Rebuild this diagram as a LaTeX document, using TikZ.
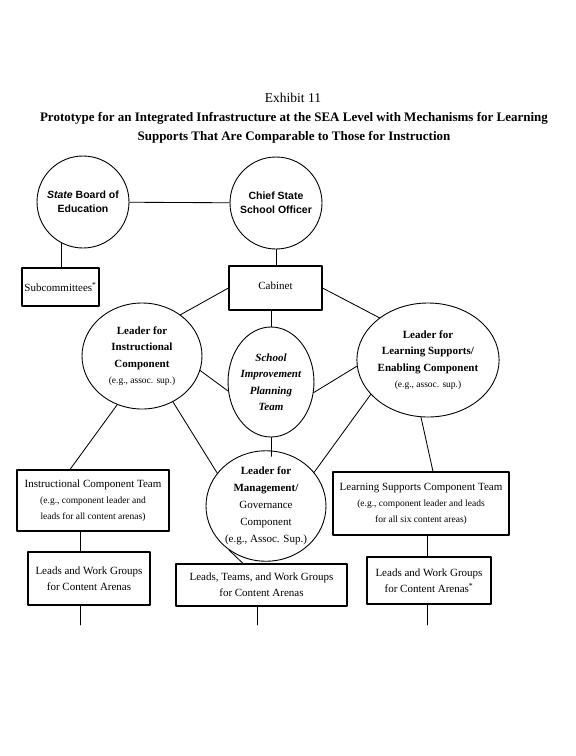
\documentclass[tikz,border=0pt]{standalone}
\usepackage{fontspec}
\setmainfont{Liberation Serif}
\newfontfamily\arialfont{Liberation Sans}
\usetikzlibrary{shapes.geometric}
\newcommand{\egtext}{\fontsize{9.5}{15}\selectfont}
\begin{document}
\begin{tikzpicture}[x=1pt, y=-1pt, line cap=round, line join=round,
    box/.style={draw, line width=1.1pt, align=center, inner sep=0pt, font=\fontsize{11}{16}\selectfont},
    bubble/.style={draw, ellipse, line width=0.9pt, align=center, inner sep=0pt, font=\fontsize{11}{16.5}\selectfont},
    link/.style={line width=0.85pt}]
    \useasboundingbox (0,0) rectangle (576,756);

    % Title
    \node (exh) at (293,98) {\fontsize{13.5}{15}\selectfont Exhibit 11};
    \node[align=center, font=\fontsize{13}{19.5}\selectfont\bfseries] (ttl) at (294,128)
        {Prototype for an Integrated Infrastructure at the SEA Level with Mechanisms for Learning\\
         Supports That Are Comparable to Those for Instruction};

    % Top level
    \node[bubble, circle, minimum size=92pt, font=\arialfont\bfseries\fontsize{10.5}{14}\selectfont] (sbe) at (83,202)
        {\textit{State} Board of\\Education};
    \node[bubble, circle, minimum size=92pt, font=\arialfont\bfseries\fontsize{10.5}{14}\selectfont] (csso) at (276,203)
        {Chief State\\School Officer};
    \node[box, minimum width=77pt, minimum height=38pt] (sub) at (60.5,287) {Subcommittees\textsuperscript{*}};
    \node[box, minimum width=93pt, minimum height=44pt] (cab) at (275.5,288) {\raisebox{4pt}{Cabinet}};

    % Component leaders
    \node[bubble, minimum width=120pt, minimum height=106pt] (lic) at (142,356)
        {\textbf{Leader for}\\\textbf{Instructional}\\\textbf{Component}\\\egtext (e.g., assoc. sup.)};
    \node[bubble, minimum width=74pt, minimum height=110pt] (sipt) at (271,382)
        {\textbf{\textit{School}}\\\textbf{\textit{Improvement}}\\\textbf{\textit{Planning}}\\\textbf{\textit{Team}}};
    \node[bubble, minimum width=120pt, minimum height=114pt] (lls) at (428,360)
        {\textbf{Leader for}\\\textbf{Learning Supports/}\\\textbf{Enabling Component}\\\egtext (e.g., assoc. sup.)};
    \node[bubble, minimum width=120pt, minimum height=108pt, font=\fontsize{11}{17}\selectfont] (lmg) at (266,506)
        {\textbf{Leader for}\\\textbf{Management/}\\Governance\\Component\\(e.g., Assoc. Sup.)};

    % Teams
    \node[box, minimum width=152pt, minimum height=61pt] (ict) at (93,500.5)
        {Instructional Component Team\\\egtext (e.g., component leader and\\\egtext leads for all content arenas)};
    \node[box, minimum width=176pt, minimum height=63pt] (lst) at (421,503.5)
        {Learning Supports Component Team\\\egtext (e.g., component leader and leads\\\egtext for all six content areas)};
    \node[box, minimum width=122pt, minimum height=53pt] (lwgI) at (89,578.5)
        {Leads and Work Groups\\for Content Arenas};
    \node[box, minimum width=171pt, minimum height=42pt] (lwgM) at (261.5,585)
        {Leads, Teams, and Work Groups\\for Content Arenas};
    \node[box, minimum width=124pt, minimum height=47pt] (lwgL) at (429,580.5)
        {Leads and Work Groups\\for Content Arenas\textsuperscript{*}};

    % Attachment points
    \coordinate (sbeS) at (sbe.-117);
    \coordinate (ictN) at ([xshift=-23pt]ict.north);
    \coordinate (ictS) at ([xshift=-13pt]ict.south);
    \coordinate (lstN) at ([xshift=12pt]lst.north);
    \coordinate (lwgMN) at ([xshift=-18.5pt]lwgM.north);
    \coordinate (lmgT) at ([yshift=-6pt]lmg.north);
    \coordinate (endI) at (80,625);
    \coordinate (endM) at (257,625);
    \coordinate (endL) at (427,625);

    % Connectors
    \draw[link] (sbe) -- (csso);
    \draw[link] (sbeS) -- (sbeS |- sub.north);
    \draw[link] (csso.south) -- (csso.south |- cab.north);
    \draw[link] (cab.west) -- (lic.47);
    \draw[link] (cab.east) -- (lls.139);
    \draw[link] (sipt.north |- cab.south) -- (sipt.north);
    \draw[link] (lic.-14) -- (sipt.192);
    \draw[link] (sipt.-14) -- (lls.185);
    \draw[link] (sipt.south) -- (sipt.south |- lmgT);
    \draw[link] (lic.-56) -- (lmg.146);
    \draw[link] (lls.211) -- (lmg.35);
    \draw[link] (lic.-117) -- (ictN);
    \draw[link] (lls.-97) -- (lstN);
    \draw[link] (lmg.-130) -- (lwgMN);
    \draw[link] (ictS) -- (ictS |- lwgI.north);
    \draw[link] (lst.south -| endL) -- (lwgL.north -| endL);
    \draw[link] (lwgI.south -| endI) -- (endI);
    \draw[link] (lwgM.south -| endM) -- (endM);
    \draw[link] (lwgL.south -| endL) -- (endL);
\end{tikzpicture}
\end{document}
